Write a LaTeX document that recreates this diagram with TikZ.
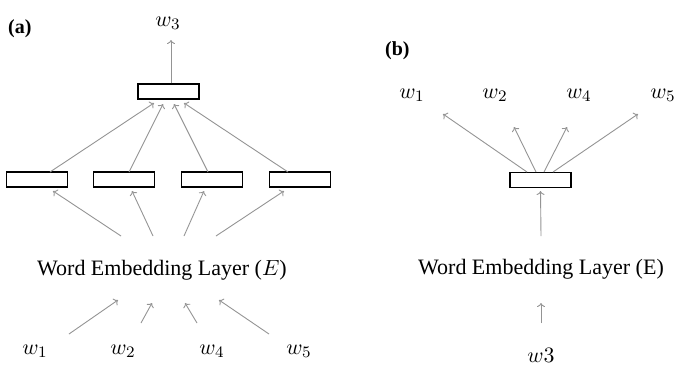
\documentclass[tikz,border=0pt]{standalone}
\usepackage{fontspec}
\setmainfont{Liberation Serif}
\usetikzlibrary{arrows.meta}
\newcommand{\bigtxt}[1]{\scalebox{2}{\fontsize{11}{13}\selectfont #1}}
\begin{document}
\begin{tikzpicture}[x=1pt,y=-1pt,
  cell/.style={draw=black,line width=1.1pt,minimum width=61pt,minimum height=15pt,inner sep=0pt,fill=white},
  conn/.style={draw=black!42,line width=0.9pt,-{Computer Modern Rightarrow[length=4pt,width=8pt]}},
  lbl/.style={inner sep=0pt,anchor=base},
  panel/.style={font=\fontsize{20}{24}\selectfont\bfseries,inner sep=0pt,anchor=base west}]
\useasboundingbox (0,0) rectangle (684,365);
% ---------- (a) ----------
\node[panel] (pa) at (8,33) {(a)};
\node[lbl] (aw3) at (168,26) {\bigtxt{$w_3$}};
\node[cell] (atop) at (168.5,91.5) {};
\node[cell] (ab1) at (37,179.5) {};
\node[cell] (ab2) at (124,179.5) {};
\node[cell] (ab3) at (212,179.5) {};
\node[cell] (ab4) at (300,179.5) {};
\node[lbl] (aemb) at (162,275) {\bigtxt{Word Embedding Layer ($E$)}};
\node[lbl] (aw1) at (35,354) {\bigtxt{$w_1$}};
\node[lbl] (aw2) at (123,354) {\bigtxt{$w_2$}};
\node[lbl] (aw4) at (212,354) {\bigtxt{$w_4$}};
\node[lbl] (aw5) at (299,354) {\bigtxt{$w_5$}};
% coordinates
\coordinate (aup) at (171,40);
\coordinate (t1) at (154,103);
\coordinate (t2) at (163,104);
\coordinate (t3) at (174,104);
\coordinate (t4) at (184,103);
\coordinate (s1) at (50,172);
\coordinate (s2) at (129,172);
\coordinate (s3) at (208,172);
\coordinate (s4) at (288,172);
\coordinate (e1) at (121,236);
\coordinate (e2) at (153,236);
\coordinate (e3) at (184,236);
\coordinate (e4) at (216,236);
\coordinate (b1) at (53,191);
\coordinate (b2) at (132,191);
\coordinate (b3) at (204,191);
\coordinate (b4) at (284,191);
\coordinate (i1) at (69,334);
\coordinate (i2) at (141,323);
\coordinate (i3) at (197,323);
\coordinate (i4) at (269,334);
\coordinate (j1) at (118,300);
\coordinate (j2) at (152,303);
\coordinate (j3) at (185,303);
\coordinate (j4) at (219,300);
\draw[conn] (atop.north -| aup) -- (aup);
\draw[conn] (s1) -- (t1);
\draw[conn] (s2) -- (t2);
\draw[conn] (s3) -- (t3);
\draw[conn] (s4) -- (t4);
\draw[conn] (e1) -- (b1);
\draw[conn] (e2) -- (b2);
\draw[conn] (e3) -- (b3);
\draw[conn] (e4) -- (b4);
\draw[conn] (i1) -- (j1);
\draw[conn] (i2) -- (j2);
\draw[conn] (i3) -- (j3);
\draw[conn] (i4) -- (j4);
% ---------- (b) ----------
\node[panel] (pb) at (385,55) {(b)};
\node[lbl] (bw1) at (412,98) {\bigtxt{$w_1$}};
\node[lbl] (bw2) at (495,98) {\bigtxt{$w_2$}};
\node[lbl] (bw4) at (579,98) {\bigtxt{$w_4$}};
\node[lbl] (bw5) at (663,98) {\bigtxt{$w_5$}};
\node[cell] (bbox) at (540.5,180) {};
\node[lbl] (bemb) at (541,274) {\bigtxt{Word Embedding Layer (E)}};
\node[lbl] (bw3) at (541,362) {\bigtxt{$w3$}};
\coordinate (u1) at (527,172);
\coordinate (u2) at (536,172);
\coordinate (u3) at (544,172);
\coordinate (u4) at (553,172);
\coordinate (v1) at (443,114);
\coordinate (v2) at (514,127);
\coordinate (v3) at (567,127);
\coordinate (v4) at (638,114);
\coordinate (bin) at (541,236);
\coordinate (bin2) at (541,323);
\coordinate (bout2) at (541,303);
\draw[conn] (u1) -- (v1);
\draw[conn] (u2) -- (v2);
\draw[conn] (u3) -- (v3);
\draw[conn] (u4) -- (v4);
\draw[conn] (bin) -- (bbox.south |- 0,191);
\draw[conn] (bin2) -- (bout2);
\end{tikzpicture}
\end{document}
